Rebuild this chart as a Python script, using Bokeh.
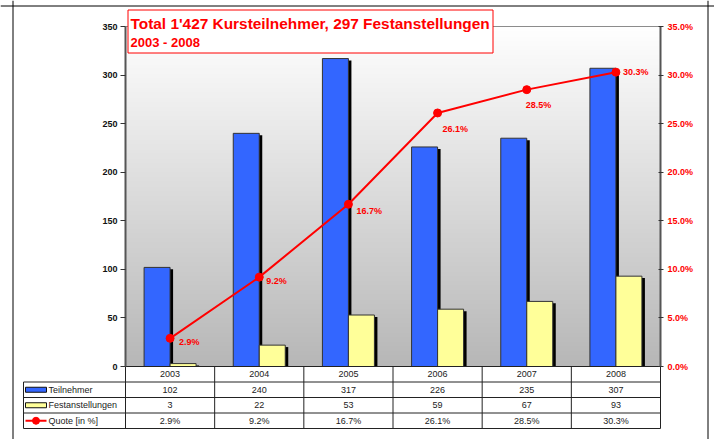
import numpy as np
from bokeh.plotting import figure
from bokeh.models import (ColumnDataSource, Range1d, LinearAxis, SingleIntervalTicker,
                          PrintfTickFormatter, Span, Label, BoxAnnotation)
from bokeh.transform import dodge
from bokeh.core.properties import value
from bokeh.embed import file_html
from bokeh.resources import INLINE

# ---------------- data ----------------
years = ["2003", "2004", "2005", "2006", "2007", "2008"]
teilnehmer = [102, 240, 317, 226, 235, 307]
festanstellungen = [3, 22, 53, 59, 67, 93]
quote = [2.9, 9.2, 16.7, 26.1, 28.5, 30.3]
series_names = ["Teilnehmer", "Festanstellungen", "Quote [in %]"]
title_line1 = "Total 1'427 Kursteilnehmer, 297 Festanstellungen"
title_line2 = "2003 - 2008"
left_max, left_step = 350, 50
right_max, right_step = 35, 5

# ---------------- styles / geometry ----------------
FONT = "Liberation Sans"
BLUE = "#3366ff"
YELLOW = "#ffff99"
RED = "#ff0000"
label_dx = [9, 7, 8, 5, -1, 7]
label_dy = [4, 4, 7, 16, 15, 0]

n = len(years)
ORG = 0                          # page pixel where the figure starts
W, H = 714, 439                  # figure size
X0, Y0 = 125, 366                # page pixel of data origin
col_px = 535 / n                 # pixels per category column
px_y = 340 / left_max            # pixels per left-axis unit
rh = 15.5 / px_y                 # table row height in data units


def dx(px):
    return px / col_px


def ypix(py):
    return (Y0 - py) / px_y


bw = dx(26)
off = dx(13)
sh = dx(3)
leg_w = dx(102)

y_lo = (Y0 - (ORG + H)) / px_y
y_hi = (Y0 - ORG) / px_y
x_lo = (ORG - X0) / col_px
x_hi = (ORG + W - X0) / col_px
scale_r = right_max / left_max

src = ColumnDataSource(dict(
    x=[i + 0.5 for i in range(n)], year=years, teil=teilnehmer, fest=festanstellungen,
    quote=quote, qlabel=[f"{q:.1f}%" for q in quote], dx=label_dx, dy=label_dy,
    teil_s=[str(v) for v in teilnehmer], fest_s=[str(v) for v in festanstellungen]))

p = figure(width=W, height=H, x_range=Range1d(x_lo, x_hi), y_range=Range1d(y_lo, y_hi),
           output_backend="svg", toolbar_location=None, x_axis_location=None,
           y_axis_location="left", min_border_left=0, min_border_right=0,
           min_border_top=0, min_border_bottom=0, outline_line_color=None,
           background_fill_color="white", border_fill_color="white")
p.xgrid.visible = False
p.ygrid.visible = False
p.extra_y_ranges = {"pct": Range1d(y_lo * scale_r, y_hi * scale_r)}

# outer border (left, top, right)
p.add_layout(Span(location=dx(12.5 - X0), dimension="height", line_color="black", line_width=1))
p.add_layout(Span(location=dx(707.5 - X0), dimension="height", line_color="black", line_width=1))
p.add_layout(Span(location=ypix(5.5), dimension="width", line_color="black", line_width=1))

# gradient background of plot area
N = 256
img = np.empty((N, 1), dtype=np.uint32)
view = img.view(dtype=np.uint8).reshape((N, 1, 4))
g = np.linspace(183, 255, N).astype(np.uint8)
view[:, 0, 0] = g
view[:, 0, 1] = g
view[:, 0, 2] = g
view[:, 0, 3] = 255
p.image_rgba(image=[img], x=0, y=0, dw=n, dh=left_max)
p.segment(x0=[0], y0=[left_max], x1=[n], y1=[left_max], line_color="#8c8c8c", line_width=1)

# bars with shadows
p.vbar(x=dodge("x", -off + sh), top=dodge("teil", -2), width=bw, fill_color="black",
       line_color=None, source=src)
p.vbar(x=dodge("x", -off), top="teil", width=bw, fill_color=BLUE, line_color="#333333",
       line_width=1, source=src)
p.vbar(x=dodge("x", off + sh), top=dodge("fest", -2), width=bw, fill_color="black",
       line_color=None, source=src)
p.vbar(x=dodge("x", off), top="fest", width=bw, fill_color=YELLOW, line_color="#333333",
       line_width=1, source=src)

# quote line
p.line(x="x", y="quote", y_range_name="pct", line_color=RED, line_width=2, source=src)
p.scatter(x="x", y="quote", y_range_name="pct", size=8, fill_color=RED, line_color=RED,
          source=src)
p.text(x="x", y="quote", text="qlabel", x_offset="dx", y_offset="dy", y_range_name="pct",
       text_color=RED, text_font=value(FONT), text_font_style="bold", text_font_size="9px",
       text_baseline="middle", text_align="left", source=src)

# axes
yl = p.yaxis[0]
yl.ticker = SingleIntervalTicker(interval=left_step)
yl.bounds = (0, left_max)
yl.fixed_location = 0
yr = LinearAxis(y_range_name="pct", ticker=SingleIntervalTicker(interval=right_step),
                formatter=PrintfTickFormatter(format="%.1f%%"), bounds=(0, right_max),
                fixed_location=n)
p.add_layout(yr, "right")
for ax, color, tin, tout in ((yl, "#111111", 0, 5), (yr, RED, 2, 3)):
    ax.major_label_text_font = FONT
    ax.major_label_text_font_style = "bold"
    ax.major_label_text_font_size = "9px"
    ax.major_label_text_color = color
    ax.axis_line_color = "#555555"
    ax.axis_line_width = 2
    ax.major_tick_line_color = "#333333"
    ax.major_tick_line_width = 1
    ax.major_tick_in = tin
    ax.major_tick_out = tout
    ax.minor_tick_line_color = None
    ax.major_label_standoff = 3

# title box
p.add_layout(BoxAnnotation(left=dx(127.5 - X0), right=dx(492.5 - X0), bottom=ypix(52.5),
                           top=ypix(9.5), fill_color="white", fill_alpha=1,
                           line_color=RED, line_alpha=1, line_width=1, line_dash="solid"))
p.add_layout(Label(x=dx(130 - X0), y=ypix(23), text=title_line1, text_font=FONT,
                   text_font_style="bold", text_font_size="15.4px", text_color=RED,
                   text_baseline="middle"))
p.add_layout(Label(x=dx(130 - X0), y=ypix(42), text=title_line2, text_font=FONT,
                   text_font_style="bold", text_font_size="13px", text_color=RED,
                   text_baseline="middle"))

# ---------------- data table ----------------
ix0, iy0, ix1, iy1 = [], [], [], []
ix0.append(0); iy0.append(0); ix1.append(n); iy1.append(0)
for r in (1, 2, 3, 4):
    ix0.append(-leg_w); iy0.append(-r * rh); ix1.append(n); iy1.append(-r * rh)
for i in range(n + 1):
    ix0.append(i); iy0.append(-4 * rh); ix1.append(i); iy1.append(0)
ix0.append(-leg_w); iy0.append(-4 * rh); ix1.append(-leg_w); iy1.append(-rh)
p.segment(x0=ix0, y0=iy0, x1=ix1, y1=iy1, line_color="#222222", line_width=1)

tx = dict(text_font=value(FONT), text_font_size="9px", text_color="#222222",
          text_baseline="middle")
p.text(x="x", y=-0.5 * rh, text="year", text_align="center", source=src, **tx)
p.text(x="x", y=-1.5 * rh, text="teil_s", text_align="center", source=src, **tx)
p.text(x="x", y=-2.5 * rh, text="fest_s", text_align="center", source=src, **tx)
p.text(x="x", y=-3.5 * rh, text="qlabel", text_align="center", source=src, **tx)

lx0 = -leg_w + dx(2)
lx1 = -leg_w + dx(23)
p.text(x=[-leg_w + dx(25)] * 3, y=[-1.5 * rh, -2.5 * rh, -3.5 * rh], text=series_names,
       text_align="left", **tx)
p.rect(x=[(lx0 + lx1) / 2] * 2, y=[-1.5 * rh, -2.5 * rh], width=lx1 - lx0, height=5 / px_y,
       fill_color=[BLUE, YELLOW], line_color="#111111", line_width=1)
p.segment(x0=[lx0], y0=[-3.5 * rh], x1=[lx1], y1=[-3.5 * rh], line_color=RED, line_width=2)
p.scatter(x=[(lx0 + lx1) / 2], y=[-3.5 * rh], size=7, fill_color=RED, line_color=RED)

open("out.html", "w").write(file_html(p, INLINE))
